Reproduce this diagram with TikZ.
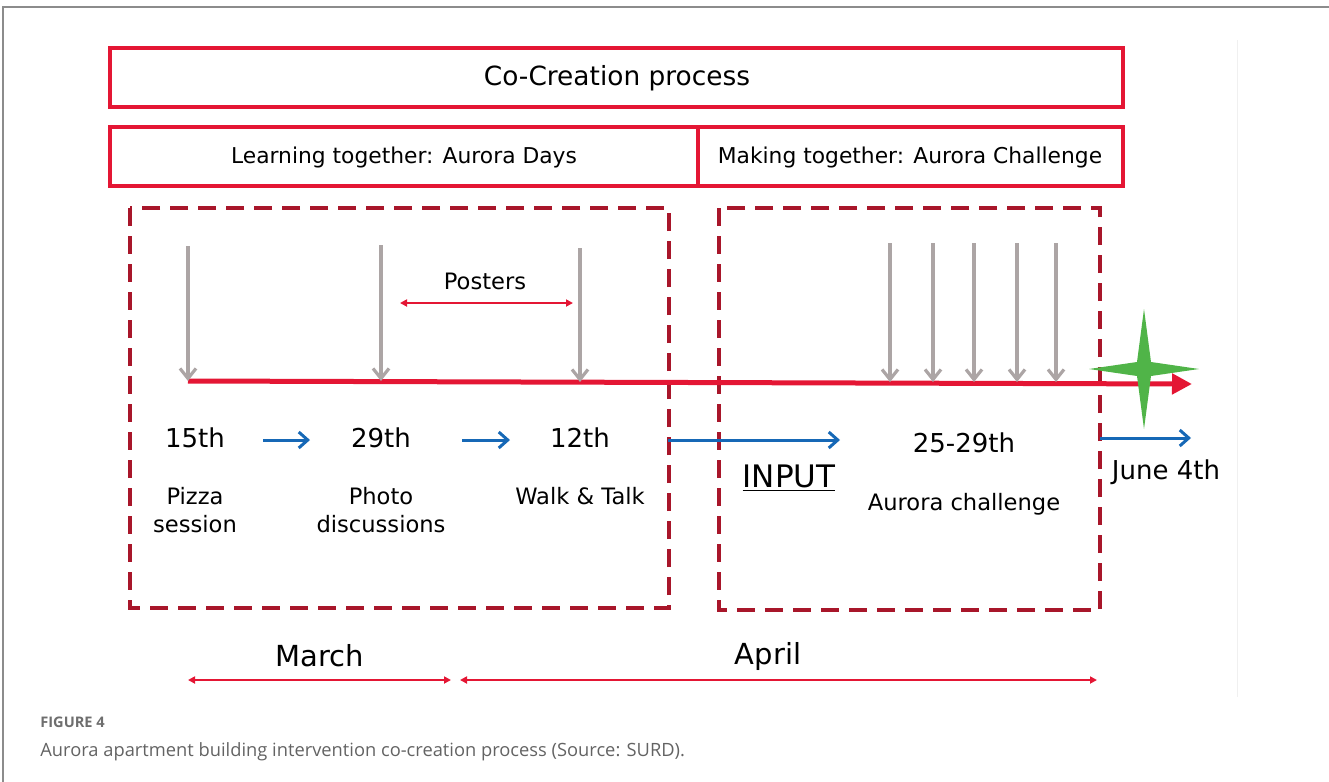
\documentclass[tikz,border=0pt]{standalone}
\usepackage{fontspec}
\setmainfont{DejaVu Sans}
\newfontfamily\capfont{Open Sans}
\usetikzlibrary{arrows.meta}
\definecolor{boxred}{RGB}{228,22,52}
\definecolor{dashred}{RGB}{168,22,42}
\definecolor{arrgray}{RGB}{172,165,165}
\definecolor{arrblue}{RGB}{22,104,182}
\definecolor{stargreen}{RGB}{80,180,72}
\definecolor{capgray}{RGB}{110,110,110}

\begin{document}
\begin{tikzpicture}[x=0.5pt,y=-0.5pt,
    redbox/.style={draw=boxred, line width=1.6pt},
    dashbox/.style={draw=dashred, line width=1.7pt, dash pattern=on 9pt off 5pt},
    grayarr/.style={draw=arrgray, line width=1.7pt, -{Straight Barb[length=5pt,width=8pt,line width=1.6pt]}},
    bluearr/.style={draw=arrblue, line width=1.5pt, -{Straight Barb[length=4.5pt,width=8pt,line width=1.5pt]}},
    thinarr/.style={draw=boxred, line width=0.9pt, {Triangle[length=3.5pt,width=3.5pt]}-{Triangle[length=3.5pt,width=3.5pt]}},
    date/.style={font=\fontsize{13}{15}\selectfont},
    lbl/.style={font=\fontsize{11.3}{13.8}\selectfont, align=center},
    month/.style={font=\fontsize{14.5}{17}\selectfont}]
        \useasboundingbox (0,0) rectangle (1329,782);
        % frame of the figure
        \draw[black!45, line width=0.8pt] (3,782) -- (3,7) -- (1329,7);
        \draw[black!6, line width=0.5pt] (1237,40) -- (1237,697);

        % heading boxes
        \draw[redbox] (110,48) rectangle (1123,107);
        \draw[redbox] (110,127) rectangle (1123,186);
        \draw[redbox] (698,127) -- (698,186);
        \node[font=\fontsize{13.2}{16}\selectfont] (cc) at (617,78) {Co-Creation process};
        \node[font=\fontsize{10.9}{13}\selectfont] (learn) at (404,157) {Learning together: Aurora Days};
        \node[font=\fontsize{10.9}{13}\selectfont] (make) at (910,157) {Making together: Aurora Challenge};

        % dashed periods
        \draw[dashbox] (130,208) rectangle (669,608);
        \draw[dashbox] (719,208) rectangle (1100,610);

        % time line
        \coordinate (T0) at (188,381);
        \coordinate (T1) at (1192,384);
        \draw[draw=boxred, line width=2.5pt, -{Triangle[length=10pt,width=10pt]}] (T0) -- (T1);

        % sessions
        \coordinate (a1) at (188,246); \coordinate (b1) at (188,381);
        \coordinate (a2) at (381,245); \coordinate (b2) at (381,381);
        \coordinate (a3) at (580,248); \coordinate (b3) at (580,382);
        \draw[grayarr] (a1) -- (b1);
        \draw[grayarr] (a2) -- (b2);
        \draw[grayarr] (a3) -- (b3);
        \foreach \x in {890,933,974,1017,1056}
            \draw[grayarr] (\x,243) -- (\x,382);

        \node (post) at (485,281) {\fontsize{11.3}{13}\selectfont Posters};
        \coordinate (p1) at (400,303); \coordinate (p2) at (573,303);
        \draw[thinarr] (p1) -- (p2);

        % dates
        \node[date] (d15) at (195,438) {15th};
        \node[date] (d29) at (381,438) {29th};
        \node[date] (d12) at (580,438) {12th};
        \node[date] (d25) at (964,443) {25-29th};
        \node[date] (june) at (1166,472) {June 4th};
        \node[font=\fontsize{15.5}{18}\selectfont] (inp) at (789,478) {\underline{INPUT}};

        \coordinate (u1) at (263,440); \coordinate (v1) at (310,440);
        \coordinate (u2) at (462,440); \coordinate (v2) at (510,440);
        \coordinate (u3) at (668,440); \coordinate (v3) at (840,440);
        \coordinate (u4) at (1100,438); \coordinate (v4) at (1191,438);
        \draw[bluearr] (u1) -- (v1);
        \draw[bluearr] (u2) -- (v2);
        \draw[bluearr] (u3) -- (v3);
        \draw[bluearr] (u4) -- (v4);

        \node[lbl] (pizza) at (195,510) {Pizza\\session};
        \node[lbl] (photo) at (381,510) {Photo\\discussions};
        \node[lbl] (walk) at (580,496) {Walk \& Talk};
        \node[lbl] (chal) at (964,504) {Aurora challenge};

        % finish star
        \coordinate (S) at (1144,369);
        \fill[stargreen] (1144,309) -- (1151,362) -- (1199,369) -- (1151,376)
            -- (1144,429) -- (1137,376) -- (1089,369) -- (1137,362) -- cycle;

        % months
        \node[month] (mar) at (320,656) {March};
        \node[month] (apr) at (768,656) {April};
        \coordinate (m1) at (188,680); \coordinate (m2) at (451,680);
        \coordinate (m3) at (460,680); \coordinate (m4) at (1097,680);
        \draw[thinarr] (m1) -- (m2);
        \draw[thinarr] (m3) -- (m4);

        % caption
        \node[anchor=west, text=capgray, font=\capfont\bfseries\fontsize{7.3}{9}\selectfont, inner sep=0pt] (fig) at (40,722) {FIGURE 4};
        \node[anchor=west, text=capgray!90!black, font=\capfont\fontsize{9.15}{11}\selectfont, inner sep=0pt] (capt) at (40,752) {Aurora apartment building intervention co-creation process (Source: SURD).};
    \end{tikzpicture}
\end{document}
